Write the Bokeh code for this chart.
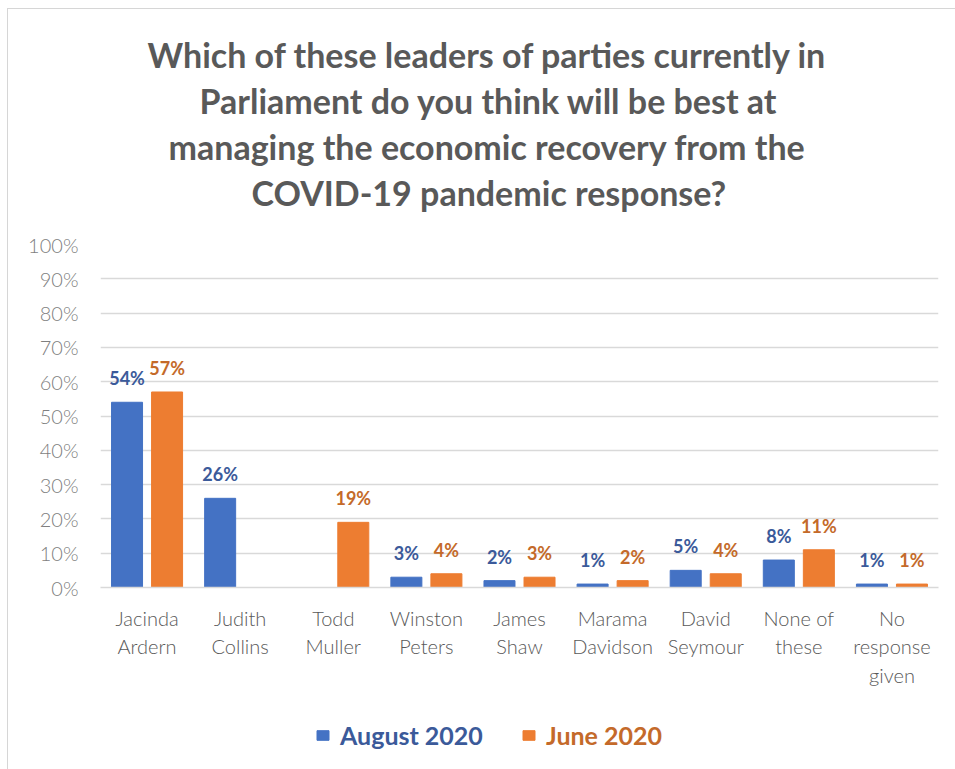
from bokeh.plotting import figure
from bokeh.layouts import column
from bokeh.models import (ColumnDataSource, FactorRange, Range1d, LabelSet, Legend, LegendItem,
                          FixedTicker, PrintfTickFormatter, Title)
from bokeh.core.properties import value
from bokeh.transform import dodge
from bokeh.embed import file_html
from bokeh.resources import INLINE

categories = ["Jacinda\nArdern", "Judith\nCollins", "Todd\nMuller", "Winston\nPeters", "James\nShaw",
              "Marama\nDavidson", "David\nSeymour", "None of\nthese", "No\nresponse\ngiven"]
august_2020 = [54, 26, 0, 3, 2, 1, 5, 8, 1]
june_2020 = [57, 0, 19, 4, 3, 2, 4, 11, 1]
series_names = ["August 2020", "June 2020"]
y_ticks = [0, 10, 20, 30, 40, 50, 60, 70, 80, 90, 100]
title_lines = ["Which of these leaders of parties currently in",
               "Parliament do you think will be best at",
               "managing the economic recovery from the",
               "COVID-19 pandemic response?"]
# left offsets (px from plot frame) that centre each title line over the whole card
title_offsets = [47, 99, 68, 151]

BLUE, ORANGE = "#4472C4", "#ED7D31"
BLUE_TXT, ORANGE_TXT = "#3B5A9A", "#C46A2A"
GREY = "#595959"
LIGHT = "Lato Light, Lato"

src = ColumnDataSource(dict(cat=categories, aug=august_2020, jun=june_2020))
aug_lab = ColumnDataSource(dict(cat=[c for c, v in zip(categories, august_2020) if v > 0],
                                v=[v for v in august_2020 if v > 0],
                                t=[f"{v}%" for v in august_2020 if v > 0]))
jun_lab = ColumnDataSource(dict(cat=[c for c, v in zip(categories, june_2020) if v > 0],
                                v=[v for v in june_2020 if v > 0],
                                t=[f"{v}%" for v in june_2020 if v > 0]))

p = figure(width=947, height=691, x_range=FactorRange(*categories, range_padding=0),
           y_range=Range1d(0, 100), output_backend="svg", toolbar_location=None,
           min_border_left=92, min_border_right=17, min_border_top=235, min_border_bottom=113)
p.outline_line_color = None

# spacer between title block and plot frame
p.add_layout(Title(text=" ", text_font_size="1px", standoff=27), "above")
for line, o in reversed(list(zip(title_lines, title_offsets))):
    p.add_layout(Title(text=line, align="left", offset=o, text_font="Lato",
                       text_font_size="34px", text_font_style="bold", text_color=GREY,
                       standoff=3), "above")

off = 0.215
w = 0.333
p.vbar(x=dodge("cat", -off, range=p.x_range), top="aug", width=w, source=src, color=BLUE)
p.vbar(x=dodge("cat", off, range=p.x_range), top="jun", width=w, source=src, color=ORANGE)

for s, d, c in ((aug_lab, -off, BLUE_TXT), (jun_lab, off, ORANGE_TXT)):
    p.add_layout(LabelSet(x=dodge("cat", d, range=p.x_range), y="v", text="t", source=s,
                          text_align="center", text_baseline="alphabetic", y_offset=17,
                          text_font=value("Lato"), text_font_size=value("18px"),
                          text_font_style=value("bold"), text_color=value(c)))

p.xgrid.grid_line_color = None
p.ygrid.grid_line_color = "#D9D9D9"
p.ygrid.grid_line_width = 1.3
p.yaxis.ticker = FixedTicker(ticks=y_ticks)
p.yaxis.formatter = PrintfTickFormatter(format="%d%%")
p.yaxis.axis_line_color = None
p.yaxis.major_tick_line_color = None
p.yaxis.minor_tick_line_color = None
p.yaxis.major_tick_out = 0
p.yaxis.major_label_standoff = 22
p.yaxis.major_label_text_font = LIGHT
p.yaxis.major_label_text_font_size = "20px"
p.yaxis.major_label_text_color = "#7F7F7F"

p.xaxis.axis_line_color = "#D9D9D9"
p.xaxis.axis_line_width = 1.3
p.xaxis.major_tick_line_color = None
p.xaxis.major_tick_out = 0
p.xaxis.major_label_standoff = 18
p.xaxis.major_label_text_font = LIGHT
p.xaxis.major_label_text_font_size = "20px"
p.xaxis.major_label_text_color = GREY
p.xaxis.major_label_text_line_height = 1.2

# legend strip (its frame is aligned with the chart frame by the column layout)
p2 = figure(width=947, height=69, x_range=FactorRange(*categories), y_range=Range1d(0, 100),
            x_axis_type=None, y_axis_type=None, output_backend="svg", toolbar_location=None,
            min_border=0)
p2.outline_line_color = None
p2.xgrid.visible = False
p2.ygrid.visible = False
lb = p2.vbar(x=dodge("cat", -off, range=p2.x_range), top="aug", width=w, source=src,
             color=BLUE, visible=False)
lo = p2.vbar(x=dodge("cat", off, range=p2.x_range), top="jun", width=w, source=src,
             color=ORANGE, visible=False)
for r, lab, c, x in ((lb, series_names[0], BLUE_TXT, 215), (lo, series_names[1], ORANGE_TXT, 421)):
    lg = Legend(items=[LegendItem(label=lab, renderers=[r])], location=(x, 19),
                orientation="horizontal", glyph_width=15, glyph_height=12, label_standoff=10,
                padding=0, margin=0, border_line_color=None, background_fill_alpha=0,
                inactive_fill_alpha=0,
                label_text_font="Lato", label_text_font_size="25px", label_text_font_style="bold",
                label_text_color=c)
    p2.add_layout(lg, "center")

layout = column(p, p2, spacing=0,
                styles={"margin-left": "7px", "margin-top": "8px",
                        "border-left": "1px solid #d6d6d6", "border-top": "1px solid #d6d6d6"})

open("out.html", "w").write(file_html(layout, INLINE))
